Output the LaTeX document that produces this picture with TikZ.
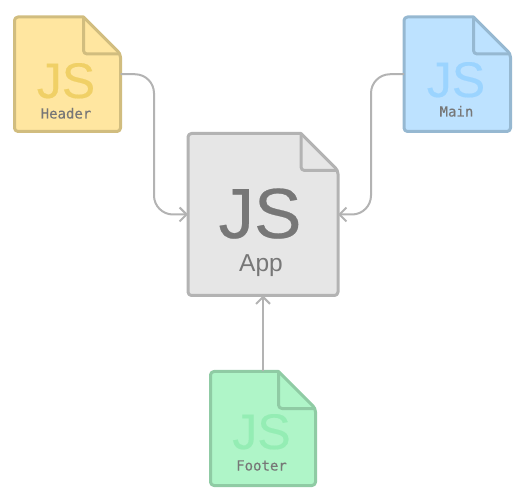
\documentclass[tikz,border=0pt]{standalone}
\usepackage{fontspec}
\setmainfont{Liberation Sans}
\newfontfamily\jsfont[FakeBold=0.35]{Liberation Sans}
\newfontfamily\labelmono[FakeBold=0.3]{DejaVu Sans Mono}
\usetikzlibrary{arrows.meta}
\definecolor{hfill}{HTML}{FFE6A0}\definecolor{hline}{HTML}{D1BD7F}\definecolor{hjs}{HTML}{F0D066}
\definecolor{mfill}{HTML}{BDE2FF}\definecolor{mline}{HTML}{96B8D1}\definecolor{mjs}{HTML}{9BD4FF}
\definecolor{ffill}{HTML}{AFF5C8}\definecolor{fline}{HTML}{8FCBA4}\definecolor{fjs}{HTML}{94EDB4}
\definecolor{afill}{HTML}{E6E6E6}\definecolor{aline}{HTML}{B3B3B3}\definecolor{atext}{HTML}{777777}
\tikzset{
  docline/.style={line width=3pt,line join=round,rounded corners=3.5pt},
  link/.style={draw=aline,line width=2pt,rounded corners=19pt,-{Straight Barb[length=7pt,width=14pt,line width=2pt]}},
  jslabel/.style={inner sep=0pt,anchor=base,font=\jsfont\fontsize{#1}{#1}\selectfont},
  monolabel/.style={inner sep=0pt,anchor=base,text=atext,font=\labelmono\fontsize{14}{14}\selectfont},
}
% #1 name, #2 left, #3 top, #4 right, #5 bottom, #6 fold, #7 fill, #8 line
\newcommand{\docshape}[8]{%
  \node[inner sep=0pt,outer sep=0pt,minimum width=#4pt-#2pt,minimum height=#5pt-#3pt] (#1) at ({(#2+#4)/2},{(#3+#5)/2}) {};
  \draw[docline,draw=#8,fill=#7] (#4-#6,#3) -- (#2,#3) -- (#2,#5) -- (#4,#5) -- (#4,#3+#6) [sharp corners] -- (#4-#6,#3) -- cycle;
  \draw[docline,draw=#8] (#4-#6,#3) -- (#4-#6,#3+#6) -- (#4,#3+#6);
}
\begin{document}
\begin{tikzpicture}[x=1pt,y=-1pt]
\useasboundingbox (0,0) rectangle (517,494);
\docshape{header}{14.5}{17}{120.5}{131.5}{37}{hfill}{hline}
\docshape{main}{404}{17}{510.5}{131.5}{37}{mfill}{mline}
\docshape{app}{188}{133.5}{338}{295.5}{37}{afill}{aline}
\docshape{footer}{210.5}{371.5}{315.5}{485.5}{37}{ffill}{fline}
\node[jslabel=50,text=hjs] (hjslabel) at (66,98) {JS};
\node[monolabel] (hname) at (66,118.5) {Header};
\node[jslabel=50,text=mjs] (mjslabel) at (456,97) {JS};
\node[monolabel] (mname) at (456.5,116.5) {Main};
\node[jslabel=71,text=atext] (ajslabel) at (260,238) {JS};
\node[text=atext,inner sep=0pt,anchor=base,font=\fontsize{24.5}{24.5}\selectfont] (aname) at (261,272) {App};
\node[jslabel=50,text=fjs] (fjslabel) at (261.5,449) {JS};
\node[monolabel] (fname) at (261.5,470.5) {Footer};
\draw[link] (header.east) -| (154,214.5) -- (app.west);
\draw[link] (main.west) -| (371,214.5) -- (app.east);
\draw[link,rounded corners=0pt] (footer.north) -- (app.south);
\end{tikzpicture}
\end{document}
